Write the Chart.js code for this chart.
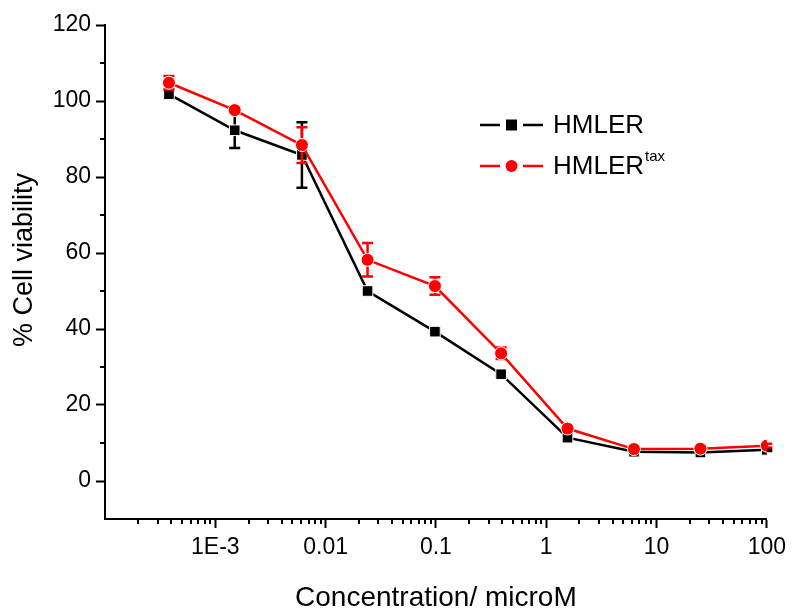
<!DOCTYPE html>
<html>
<head>
<meta charset="utf-8">
<script src="https://cdn.jsdelivr.net/npm/chart.js@4.4.0/dist/chart.umd.min.js"></script>
<style>
  html, body { margin: 0; padding: 0; background: #fff; }
  #wrap { width: 792px; height: 610px; }
</style>
</head>
<body>
<div id="wrap"><canvas id="viability" width="792" height="610"></canvas></div>
<script>
// concentraties in microM (4-voudige verdunning vanaf 100)
const concentrations = [0.00038, 0.0015, 0.0061, 0.024, 0.098, 0.39, 1.56, 6.25, 25, 100];
const hmlerValues = [101.8, 92.3, 85.8, 50.0, 39.3, 28.1, 11.4, 7.7, 7.5, 8.2];
const hmlerErrors = [1.2, 4.7, 8.6, 0.5, 0.5, 0.5, 0.5, 0.3, 0.3, 0.3];
const taxValues = [104.8, 97.6, 88.4, 58.2, 51.3, 33.6, 13.8, 8.4, 8.5, 9.3];
const taxErrors = [1.8, 0.8, 4.7, 4.4, 2.3, 1.5, 0.8, 0.5, 0.5, 0.5];
const xTickValues = [0.001, 0.01, 0.1, 1, 10, 100];
const xTickLabels = ['1E-3', '0.01', '0.1', '1', '10', '100'];
const yTickValues = [0, 20, 40, 60, 80, 100, 120];

const fontFamily = "'Liberation Sans', Arial, sans-serif";
const errorSets = [hmlerErrors, taxErrors];

function toPoints(values) {
    return values.map((v, i) => ({ x: concentrations[i], y: v }));
}

function xLabelIndex(value) {
    return xTickValues.findIndex(t => Math.abs(Math.log10(t) - Math.log10(value)) < 1e-6);
}

// foutbalken per dataset, vlak voor de lijn en symbolen van die dataset
const errorBars = {
    id: 'errorBars',
    beforeDatasetDraw(chart, args) {
        const ds = chart.data.datasets[args.index];
        const errs = errorSets[args.index];
        const yScale = chart.scales.y;
        const ctx = chart.ctx;
        ctx.save();
        ctx.lineWidth = 2.5;
        ctx.strokeStyle = ds.borderColor;
        args.meta.data.forEach((pt, i) => {
            const top = yScale.getPixelForValue(ds.data[i].y + errs[i]);
            const bot = yScale.getPixelForValue(ds.data[i].y - errs[i]);
            ctx.beginPath();
            ctx.moveTo(pt.x, top);
            ctx.lineTo(pt.x, bot);
            ctx.moveTo(pt.x - 5.5, top);
            ctx.lineTo(pt.x + 5.5, top);
            ctx.moveTo(pt.x - 5.5, bot);
            ctx.lineTo(pt.x + 5.5, bot);
            ctx.stroke();
        });
        ctx.restore();
    }
};

// korte tussenstreepjes op beide assen + y-astitel
const minorTicks = {
    id: 'minorTicks',
    afterDraw(chart) {
        const ctx = chart.ctx;
        const xs = chart.scales.x;
        const ys = chart.scales.y;
        ctx.save();
        ctx.strokeStyle = '#000';
        ctx.lineWidth = 2;
        ctx.beginPath();
        xs.ticks.forEach(t => {
            if (xLabelIndex(t.value) >= 0 || t.value <= 0.0001) return;
            const px = Math.round(xs.getPixelForValue(t.value));
            ctx.moveTo(px, xs.top);
            ctx.lineTo(px, xs.top + 5);
        });
        ys.ticks.forEach(t => {
            if (t.value % 20 === 0 || t.value < 0) return;
            const py = Math.round(ys.getPixelForValue(t.value));
            ctx.moveTo(ys.right, py);
            ctx.lineTo(ys.right - 5, py);
        });
        ctx.stroke();

        ctx.translate(25, 260);
        ctx.rotate(-Math.PI / 2);
        ctx.fillStyle = '#000';
        ctx.font = '27px ' + fontFamily;
        ctx.textAlign = 'center';
        ctx.textBaseline = 'middle';
        ctx.fillText('% Cell viability', 0, 0);
        ctx.restore();
    }
};

// legenda met superscript in het plotvlak
const plotLegend = {
    id: 'plotLegend',
    afterDraw(chart) {
        const ctx = chart.ctx;
        const rows = [
            { color: '#000', shape: 'rect', y: 125, text: 'HMLER', sup: '' },
            { color: '#ff0000', shape: 'circle', y: 166, text: 'HMLER', sup: 'tax' }
        ];
        ctx.save();
        rows.forEach(r => {
            ctx.strokeStyle = r.color;
            ctx.fillStyle = r.color;
            ctx.lineWidth = 2.5;
            ctx.beginPath();
            ctx.moveTo(480, r.y);
            ctx.lineTo(500, r.y);
            ctx.moveTo(523, r.y);
            ctx.lineTo(543, r.y);
            ctx.stroke();
            ctx.beginPath();
            if (r.shape === 'rect') {
                ctx.rect(506, r.y - 5.5, 11, 11);
            } else {
                ctx.arc(511.5, r.y, 6, 0, Math.PI * 2);
            }
            ctx.fill();
            ctx.fillStyle = '#000';
            ctx.font = '26px ' + fontFamily;
            ctx.textBaseline = 'middle';
            ctx.textAlign = 'left';
            ctx.fillText(r.text, 553, r.y + 1);
            if (r.sup) {
                const w = ctx.measureText(r.text).width;
                ctx.font = '15px ' + fontFamily;
                ctx.fillText(r.sup, 553 + w + 1, r.y - 9);
            }
        });
        ctx.restore();
    }
};

new Chart(document.getElementById('viability'), {
    type: 'line',
    data: {
        datasets: [
            {
                label: 'HMLER',
                data: toPoints(hmlerValues),
                borderColor: '#000',
                backgroundColor: '#000',
                borderWidth: 2.5,
                pointStyle: 'rect',
                pointRadius: 7.5,
                pointBorderColor: '#fff',
                pointBorderWidth: 1,
                tension: 0,
                order: 1
            },
            {
                label: 'HMLERtax',
                data: toPoints(taxValues),
                borderColor: '#ff0000',
                backgroundColor: '#ff0000',
                borderWidth: 2.5,
                pointStyle: 'circle',
                pointRadius: 6.5,
                pointBorderColor: '#fff',
                pointBorderWidth: 1,
                tension: 0,
                order: 0
            }
        ]
    },
    options: {
        responsive: false,
        animation: false,
        devicePixelRatio: 1,
        layout: { padding: { left: 0, top: 25, right: 24, bottom: 0 } },
        plugins: {
            legend: { display: false },
            tooltip: { enabled: false }
        },
        scales: {
            x: {
                type: 'logarithmic',
                min: 0.0001,
                max: 100,
                afterFit(scale) { scale.height = 91; },
                afterBuildTicks(scale) {
                    const ticks = [];
                    for (let k = -4; k <= 2; k++) {
                        for (let m = 1; m <= 9; m++) {
                            const v = m * Math.pow(10, k);
                            if (v <= 100.0001) ticks.push({ value: v });
                        }
                    }
                    scale.ticks = ticks;
                },
                border: { display: true, color: '#000', width: 2 },
                grid: {
                    drawOnChartArea: false,
                    drawTicks: true,
                    tickLength: 9,
                    tickWidth: 2,
                    tickColor: c => (c.tick && xLabelIndex(c.tick.value) >= 0) ? '#000' : 'rgba(0,0,0,0)'
                },
                ticks: {
                    autoSkip: false,
                    maxRotation: 0,
                    padding: 6,
                    color: '#000',
                    font: { family: fontFamily, size: 23 },
                    callback: v => {
                        const i = xLabelIndex(v);
                        return i >= 0 ? xTickLabels[i] : '';
                    }
                },
                title: {
                    display: true,
                    text: 'Concentration/ microM',
                    color: '#000',
                    font: { family: fontFamily, size: 28, lineHeight: 1 },
                    padding: { top: 0, bottom: -2 }
                }
            },
            y: {
                min: -10,
                max: 120,
                afterFit(scale) { scale.width = 105; },
                border: { display: true, color: '#000', width: 2 },
                grid: {
                    drawOnChartArea: false,
                    drawTicks: true,
                    tickLength: 9,
                    tickWidth: 2,
                    tickColor: c => (c.tick && yTickValues.includes(c.tick.value)) ? '#000' : 'rgba(0,0,0,0)'
                },
                ticks: {
                    stepSize: 10,
                    padding: 5,
                    color: '#000',
                    font: { family: fontFamily, size: 23 },
                    callback: v => yTickValues.includes(v) ? String(v) : ''
                }
            }
        }
    },
    plugins: [errorBars, minorTicks, plotLegend]
});
</script>
</body>
</html>
